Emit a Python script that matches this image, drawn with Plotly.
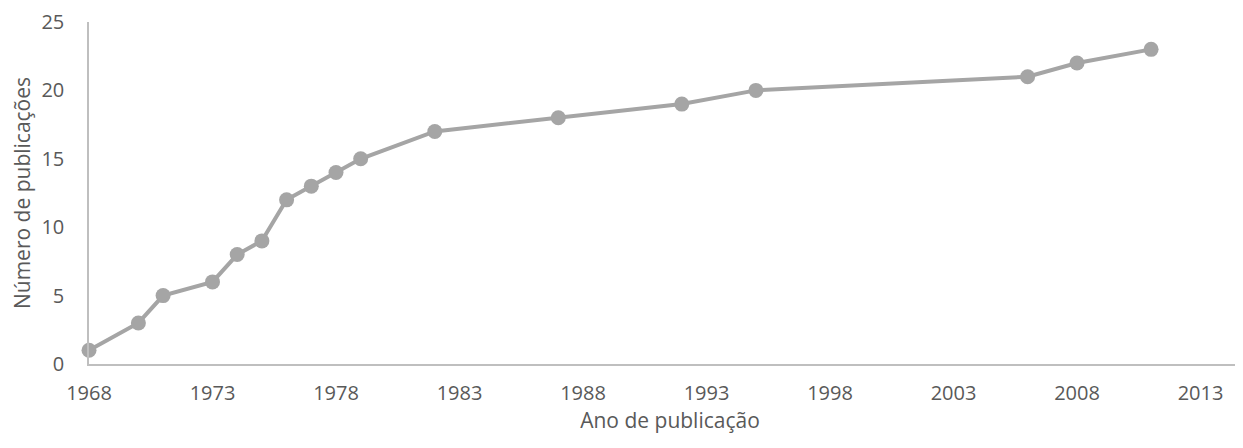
import plotly.graph_objects as go

years = [1968, 1970, 1971, 1973, 1974, 1975, 1976, 1977, 1978, 1979, 1982, 1987, 1992, 1995, 2006, 2008, 2011]
counts = [1, 3, 5, 6, 8, 9, 12, 13, 14, 15, 17, 18, 19, 20, 21, 22, 23]
x_ticks = [1968, 1973, 1978, 1983, 1988, 1993, 1998, 2003, 2008, 2013]
y_ticks = [0, 5, 10, 15, 20, 25]

fig = go.Figure()
fig.add_trace(go.Scatter(
    x=years, y=counts, mode="lines+markers",
    line=dict(color="#A5A5A5", width=4),
    marker=dict(color="#A5A5A5", size=15),
    cliponaxis=False, showlegend=False,
))

font_family = "Open Sans, Lato, sans-serif"
fig.update_layout(
    width=1243, height=448,
    margin=dict(l=81, r=0, t=14, b=92),
    paper_bgcolor="white", plot_bgcolor="white",
    font=dict(family=font_family, color="#595959", size=20),
    xaxis=dict(
        range=[1968, 1968 + (1243 - 81) / 24.7],
        tickvals=x_ticks, ticktext=[str(v) for v in x_ticks],
        showgrid=False, zeroline=False, automargin=False,
        showline=True, linecolor="#BFBFBF", linewidth=1.5,
        ticks="", tickfont=dict(size=20, color="#595959"),
        ticklabelstandoff=10, ticklabeloverflow="allow",
        title=dict(text="Ano de publicação", font=dict(size=21, color="#595959"), standoff=3),
    ),
    yaxis=dict(
        range=[0, 25],
        tickvals=y_ticks,
        showgrid=False, zeroline=False, automargin=False,
        showline=True, linecolor="#BFBFBF", linewidth=1.5,
        ticks="", tickfont=dict(size=20, color="#595959"),
        ticklabelstandoff=19, ticklabeloverflow="allow",
        title=dict(text="Número de publicações", font=dict(size=21, color="#595959"), standoff=8),
    ),
)

fig.write_html("out.html")
